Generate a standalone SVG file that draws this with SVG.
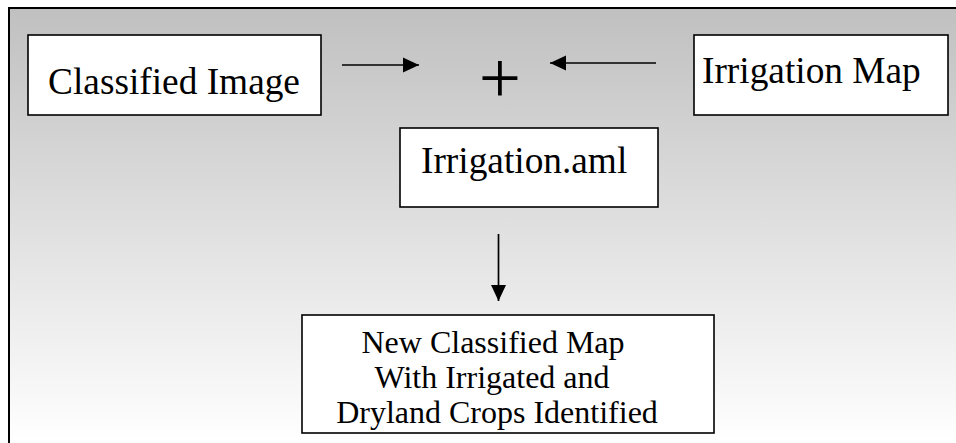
<svg xmlns="http://www.w3.org/2000/svg" width="956" height="443" viewBox="0 0 956 443">
  <defs>
    <linearGradient id="bg" x1="0" y1="8" x2="0" y2="443" gradientUnits="userSpaceOnUse">
      <stop offset="0" stop-color="#c0c0c0"/>
      <stop offset="1" stop-color="#ffffff"/>
    </linearGradient>
    <marker id="ah" markerWidth="17" markerHeight="16" refX="16" refY="8" orient="auto" markerUnits="userSpaceOnUse">
      <path d="M0,0.5 L16,8 L0,15.5 Z" fill="#000"/>
    </marker>
    <style>
      .box { fill: #ffffff; stroke: #000; stroke-width: 1.6; }
      .lbl { font-family: "Liberation Serif", "Times New Roman", serif; font-size: 37.33px; fill: #000; }
      .lbl2 { font-family: "Liberation Serif", "Times New Roman", serif; font-size: 32px; fill: #000; text-anchor: middle; }
      .conn { stroke: #000; stroke-width: 1.7; fill: none; marker-end: url(#ah); }
    </style>
  </defs>
  <rect x="0" y="0" width="956" height="443" fill="#ffffff"/>
  <rect x="9" y="8" width="960" height="450" fill="url(#bg)" stroke="#000" stroke-width="2"/>

  <g id="connectors">
    <line class="conn" x1="342" y1="65" x2="419" y2="65"/>
    <line class="conn" x1="656" y1="63" x2="550" y2="63"/>
    <line class="conn" x1="498.5" y1="234" x2="498.5" y2="301"/>
  </g>

  <g id="plus">
    <text x="500" y="103" font-family="Liberation Serif, serif" font-size="75" text-anchor="middle">+</text>
  </g>

  <g id="classified-image">
    <rect class="box" x="28" y="35" width="293" height="80"/>
    <text class="lbl" x="174" y="94" text-anchor="middle">Classified Image</text>
  </g>

  <g id="irrigation-map">
    <rect class="box" x="694" y="35" width="254" height="80"/>
    <text class="lbl" x="702" y="83">Irrigation Map</text>
  </g>

  <g id="irrigation-aml">
    <rect class="box" x="400" y="128" width="258" height="79"/>
    <text class="lbl" x="421" y="173">Irrigation.aml</text>
  </g>

  <g id="new-classified-map">
    <rect class="box" x="302" y="315" width="412" height="118"/>
    <text class="lbl2" x="493" y="353">New Classified Map</text>
    <text class="lbl2" x="492" y="388">With Irrigated and</text>
    <text class="lbl2" x="497" y="423">Dryland Crops Identified</text>
  </g>
</svg>
